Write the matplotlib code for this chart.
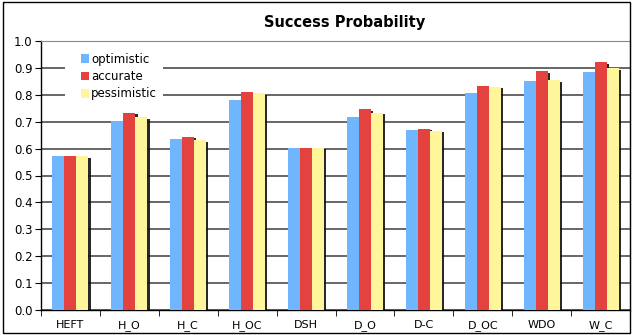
import numpy as np
import matplotlib
matplotlib.use("Agg")
import matplotlib.pyplot as plt
import matplotlib.patheffects as pe
from matplotlib.patches import Rectangle

# success probability per scheduler and estimate type
schedulers = ["HEFT", "H_O", "H_C", "H_OC", "DSH", "D_O", "D-C", "D_OC", "WDO", "W_C"]
optimistic = [0.573, 0.703, 0.636, 0.781, 0.603, 0.718, 0.668, 0.807, 0.853, 0.886]
accurate = [0.573, 0.733, 0.644, 0.811, 0.603, 0.746, 0.674, 0.832, 0.887, 0.921]
pessimistic = [0.573, 0.716, 0.632, 0.807, 0.604, 0.733, 0.667, 0.830, 0.855, 0.900]
yticks = np.arange(0, 1.01, 0.1)

colors = ["#70B6FF", "#E4423E", "#FFF59A"]
series = [("optimistic", optimistic), ("accurate", accurate), ("pessimistic", pessimistic)]

W, H = 633, 335
fig = plt.figure(figsize=(W / 100, H / 100), dpi=100)
ax = fig.add_axes([41 / W, 1 - 310 / H, 589 / W, 269 / H])

x = np.arange(len(schedulers))
w = 0.204
shadow = [pe.SimplePatchShadow(offset=(1.6, -1.2), shadow_rgbFace="#111111", alpha=0.9), pe.Normal()]
for i, (name, vals) in enumerate(series):
    bars = ax.bar(x + (i - 1) * w, vals, width=w, color=colors[i], label=name,
                  linewidth=0, zorder=3)
    for b in bars:
        b.set_path_effects(shadow)

ax.set_xlim(-0.5, len(schedulers) - 0.5)
ax.set_ylim(0, 1.0)
ax.set_yticks(yticks)
ax.set_yticklabels([f"{v:.1f}" for v in yticks], fontsize=8.5)
ax.yaxis.grid(True, color="#5a5a5a", linewidth=1.3, zorder=0)
ax.set_axisbelow(True)

ax.set_xticks(x)
ax.set_xticklabels(schedulers, fontsize=8, va="baseline")
ax.tick_params(axis="x", length=0, pad=13)
ax.set_xticks(np.arange(-0.5, len(schedulers), 1.0), minor=True)
ax.tick_params(axis="x", which="minor", length=4, direction="out", color="black")
ax.tick_params(axis="y", length=4, direction="out", pad=2)

for s in ["top", "right"]:
    ax.spines[s].set_color("#888888")
ax.spines["left"].set_linewidth(1.0)
ax.spines["bottom"].set_linewidth(1.0)

fig.text(344.5 / W, 1 - 27 / H, "Success Probability", fontsize=10.5,
         fontweight="bold", ha="center", va="baseline")

# white block behind the legend, breaking the grid lines
ax.add_patch(Rectangle((65 / W, 1 - 103 / H), 98 / W, 56 / H, transform=fig.transFigure,
                       facecolor="white", edgecolor="none", zorder=2))
leg = ax.legend(loc="upper left", bbox_to_anchor=(75 / W, 1 - 47 / H),
                bbox_transform=fig.transFigure, frameon=False, borderpad=0,
                fontsize=8.5, handlelength=0.7, handleheight=0.75, handletextpad=0.15,
                labelspacing=0.36)
for h in leg.legend_handles:
    h.set_path_effects([pe.Normal()])

# outer frame
fig.patches.append(Rectangle((0.004, 0.006), 0.992, 0.988, transform=fig.transFigure,
                             fill=False, edgecolor="black", linewidth=1.0))

fig.savefig("out.png", dpi=100)
